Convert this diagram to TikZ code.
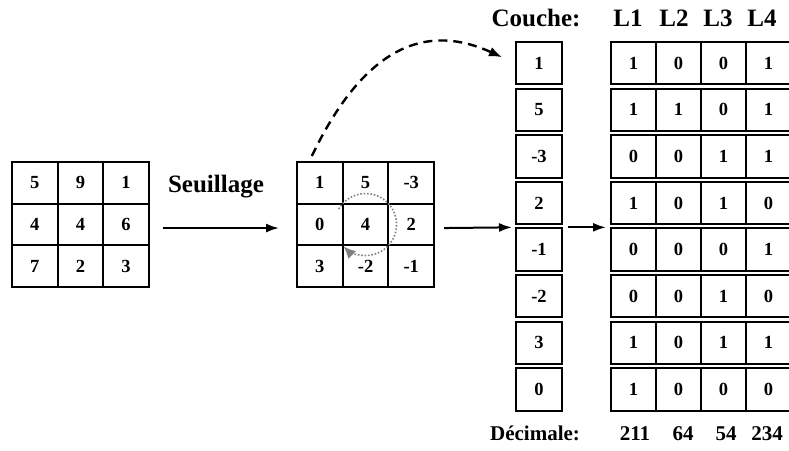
\documentclass[tikz,border=0pt]{standalone}
\usepackage{fontspec}
\setmainfont{Liberation Serif}
\usetikzlibrary{arrows.meta}
\tikzset{
  cell/.style={draw, line width=2pt, minimum width=45.6pt, minimum height=41.7pt,
    inner sep=0pt, font=\fontsize{18.5}{18.5}\selectfont\bfseries},
  box/.style={cell, minimum width=46pt, minimum height=42.5pt},
  bit/.style={cell, minimum width=45pt, minimum height=42.5pt},
  lbl/.style={font=\fontsize{25}{25}\selectfont\bfseries, anchor=base, inner sep=0pt},
  dec/.style={font=\fontsize{21}{21}\selectfont\bfseries, anchor=base, inner sep=0pt},
  arr/.style={line width=2pt, -{Latex[length=13pt,width=9pt]}}
}

\begin{document}
\begin{tikzpicture}[x=1pt, y=1pt]
            \useasboundingbox (0,0) rectangle (789,450);
            \foreach \r/\a/\b/\c in {1/5/9/1, 2/4/4/6, 3/7/2/3}
                \foreach \k/\v in {1/\a, 2/\b, 3/\c}
                    \node[cell] (l\r\k) at ({12+45.6*(\k-0.5)}, {288-41.7*(\r-0.5)}) {\v};
            \foreach \r/\a/\b/\c in {1/1/5/-3, 2/0/4/2, 3/3/-2/-1}
                \foreach \k/\v in {1/\a, 2/\b, 3/\c}
                    \node[cell] (m\r\k) at ({297+45.7*(\k-0.5)}, {288-41.7*(\r-0.5)}) {\v};
            \foreach \i/\v in {1/1, 2/5, 3/-3, 4/2, 5/-1, 6/-2, 7/3, 8/0}
                \node[box] (c\i) at (539, {386.8-46.6*(\i-1)}) {\v};
            \foreach \i/\ba/\bb/\bc/\bd in {1/1/0/0/1, 2/1/1/0/1, 3/0/0/1/1, 4/1/0/1/0,
                    5/0/0/0/1, 6/0/0/1/0, 7/1/0/1/1, 8/1/0/0/0}
                \foreach \k/\v in {1/\ba, 2/\bb, 3/\bc, 4/\bd}
                    \node[bit] (t\i\k) at ({611+45*(\k-0.5)}, {386.8-46.6*(\i-1)}) {\v};

            \node[lbl] (seuil) at (216,257) {Seuillage};
            \node[lbl] (couche) at (536,423) {Couche:};
            \foreach \k/\x in {1/628, 2/674, 3/718, 4/762}
                \node[lbl] (L\k) at (\x,423) {L\k};
            \node[dec] (decim) at (535,10) {Décimale:};
            \foreach \k/\x/\v in {1/635/211, 2/683/64, 3/726/54, 4/767/234}
                \node[dec] (d\k) at (\x,10) {\v};

            \draw[arr] ([xshift=13pt,yshift=-3.5pt]l23.east) -- ([xshift=-17pt,yshift=-3.5pt]m21.west);
            \draw[arr] ([xshift=9pt,yshift=-3.5pt]m23.east) -- ([xshift=-3pt]c5.north west);
            \draw[arr] ([xshift=5pt]c5.north east) -- ([xshift=-4pt]t51.north west);
            \draw[line width=2.4pt, dash pattern=on 9pt off 6pt, -{Latex[length=13pt,width=10pt]}]
                ([xshift=-8pt,yshift=5pt]m11.north) .. controls +(48,100) and +(-83,38) ..
                ([xshift=-13pt,yshift=6pt]c1.west);
            \draw[gray, line width=1.6pt, dash pattern=on 1.6pt off 1.8pt,
                -{Latex[length=12pt,width=11pt]}]
                ([shift={(150:31pt)}]m22.center) arc[start angle=150, end angle=-135, radius=31pt];
        \end{tikzpicture}
\end{document}
